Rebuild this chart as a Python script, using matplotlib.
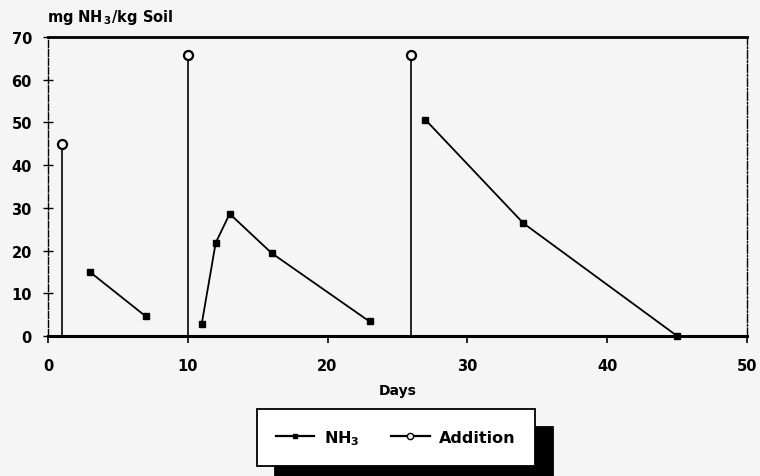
import matplotlib
matplotlib.use('Agg')
import matplotlib.pyplot as plt
from matplotlib.lines import Line2D

plt.rcParams['font.family'] = ['DejaVu Sans']
plt.rcParams['font.weight'] = 'bold'

BG = '#f5f5f5'

# NH3 measurements, one list per application period
nh3_days = [[3, 7], [11, 12, 13, 16, 23], [27, 34, 45]]
nh3_vals = [[15, 4.6], [2.8, 21.8, 28.6, 19.4, 3.4], [50.6, 26.4, 0]]

# NH3 additions (day, amount)
add_days = [1, 10, 26]
add_vals = [45, 65.8, 65.8]

xticks = [0, 10, 20, 30, 40, 50]
yticks = [0, 10, 20, 30, 40, 50, 60, 70]

fig = plt.figure(figsize=(7.6, 4.77), dpi=100, facecolor=BG)
ax = fig.add_axes([0.063, 0.2935, 0.920, 0.627], facecolor=BG)

for d, v in zip(nh3_days, nh3_vals):
    ax.plot(d, v, color='black', lw=1.3, marker='s', ms=4.5,
            mfc='black', mec='black', clip_on=False, zorder=3)

ax.vlines(add_days, 0, add_vals, color='black', lw=1.2, zorder=2)
ax.plot(add_days, add_vals, ls='none', marker='o', ms=6.5, mfc=BG,
        mec='black', mew=1.6, zorder=4)

ax.set_xlim(0, 50)
ax.set_ylim(0, 70)
ax.set_xticks(xticks)
ax.set_yticks(yticks)
ax.tick_params(axis='x', direction='out', length=5, width=1.2,
               labelsize=10.5, pad=11)
ax.tick_params(axis='y', direction='inout', length=7, width=1.0,
               labelsize=10.5, pad=8)
for lab in ax.get_xticklabels() + ax.get_yticklabels():
    lab.set_fontweight('bold')

ax.spines['bottom'].set_linewidth(2.2)
ax.spines['top'].set_linewidth(2.0)
ax.spines['left'].set_linewidth(1.0)
ax.spines['left'].set_linestyle((0, (5, 1.5)))
ax.spines['right'].set_linewidth(1.0)
ax.spines['right'].set_linestyle((0, (6, 1.5, 1, 1.5)))

ax.set_xlabel('Days', fontsize=10, fontweight='bold', labelpad=7)
fig.text(0.062, 0.943, 'mg NH$_{\\,3}$/kg Soil', fontsize=10.5,
         fontweight='bold', ha='left', va='bottom')

handles = [
    Line2D([], [], color='black', lw=1.6, marker='s', ms=3.5),
    Line2D([], [], color='black', lw=1.6, marker='o', ms=4.5, mfc=BG),
]
leg = fig.legend(handles, ['NH$_3$', 'Addition'], loc='center',
                 bbox_to_anchor=(0.521, 0.081), ncol=2, frameon=True,
                 fancybox=False, edgecolor='black', facecolor='white',
                 handlelength=2.4, handletextpad=0.6, columnspacing=2.0,
                 borderpad=1.2, borderaxespad=0,
                 prop={'weight': 'bold', 'size': 11.5},
                 shadow={'ox': 13, 'oy': -13, 'color': 'black', 'alpha': 1})
leg.get_frame().set_linewidth(1.3)

fig.savefig('out.png', dpi=100, facecolor=BG)
